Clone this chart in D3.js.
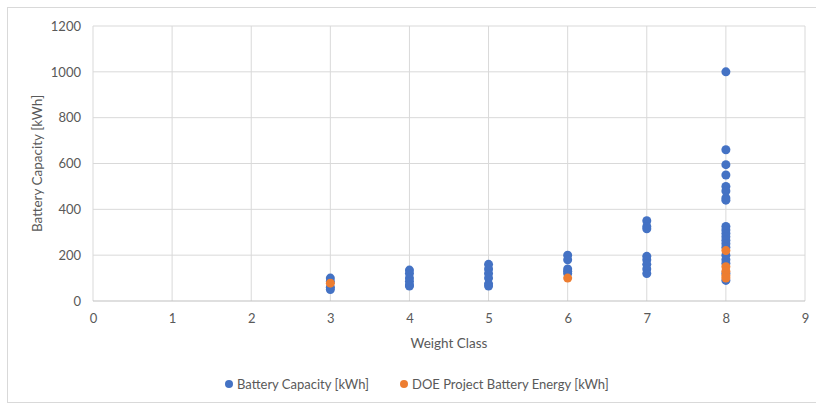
<!DOCTYPE html>
<html><head><meta charset="utf-8">
<script src="https://cdn.jsdelivr.net/npm/d3@7"></script>
<style>body{margin:0;background:#fff;} text{font-family:Lato,"Open Sans",sans-serif;}</style>
</head><body>
<svg id="c" width="816" height="406"></svg>
<script>
const batteryX = [3,3,3,3, 4,4,4,4,4,4, 5,5,5,5,5,5, 6,6,6,6,6, 7,7,7,7,7,7,7,7,
  8,8,8,8,8,8,8,8, 8,8,8,8,8,8,8,8,8,8,8,8];
const batteryY = [100,85,60,50, 135,120,100,85,70,65, 160,140,120,100,75,65, 200,180,140,130,120, 350,325,315,195,180,160,140,120,
  1000,660,595,550,500,480,450,440, 325,310,295,280,265,250,235,200,180,165,120,90];
const doeX = [3, 6, 8,8,8,8,8];
const doeY = [78, 100, 220,150,130,110,100];
const xTicks = [0,1,2,3,4,5,6,7,8,9];
const yTicks = [0,200,400,600,800,1000,1200];
const seriesNames = ["Battery Capacity [kWh]","DOE Project Battery Energy [kWh]"];
const colors = ["#4472C4","#ED7D31"];

const svg = d3.select("#c");
svg.append("rect").attr("x",7.5).attr("y",7.5).attr("width",820).attr("height",395)
  .attr("fill","#fff").attr("stroke","#d9d9d9");
const x = d3.scaleLinear().domain([0,9]).range([93,805]);
const y = d3.scaleLinear().domain([0,1200]).range([301,26]);

svg.append("g").selectAll("line").data(yTicks.filter(d=>d>0)).join("line")
  .attr("x1",x(0)).attr("x2",x(9)).attr("y1",d=>y(d)).attr("y2",d=>y(d))
  .attr("stroke","#d9d9d9").attr("stroke-width",1);
svg.append("g").selectAll("line").data(xTicks).join("line")
  .attr("y1",y(0)).attr("y2",y(1200)).attr("x1",d=>x(d)).attr("x2",d=>x(d))
  .attr("stroke","#d9d9d9").attr("stroke-width",1);
svg.append("line").attr("x1",x(0)).attr("x2",x(9)).attr("y1",y(0)).attr("y2",y(0))
  .attr("stroke","#bfbfbf");

const yAxis = d3.axisLeft(y).tickValues(yTicks).tickFormat(d3.format("d")).tickSize(0).tickPadding(12);
const gy = svg.append("g").attr("transform",`translate(${x(0)},0)`).call(yAxis);
gy.select(".domain").remove();
gy.selectAll("text").attr("fill","#595959").style("font-size","13px");
const xAxis = d3.axisBottom(x).tickValues(xTicks).tickFormat(d3.format("d")).tickSize(0).tickPadding(13);
const gx = svg.append("g").attr("transform",`translate(0,${y(0)})`).call(xAxis);
gx.select(".domain").remove();
gx.selectAll("text").attr("fill","#595959").style("font-size","13px");

svg.append("text").attr("transform",`translate(42,${(y(0)+y(1200))/2}) rotate(-90)`)
  .attr("text-anchor","middle").attr("fill","#595959").style("font-size","13.5px")
  .text("Battery Capacity [kWh]");
svg.append("text").attr("x",(x(0)+x(9))/2).attr("y",348).attr("text-anchor","middle")
  .attr("fill","#595959").style("font-size","13.5px").text("Weight Class");

const pts1 = batteryX.map((d,i)=>({x:d,y:batteryY[i]}));
const pts2 = doeX.map((d,i)=>({x:d,y:doeY[i]}));
svg.append("g").selectAll("circle").data(pts1).join("circle")
  .attr("cx",d=>x(d.x)).attr("cy",d=>y(d.y)).attr("r",4.5).attr("fill",colors[0]);
svg.append("g").selectAll("circle").data(pts2).join("circle")
  .attr("cx",d=>x(d.x)).attr("cy",d=>y(d.y)).attr("r",4.5).attr("fill",colors[1]);

const legX = [229, 404];
const lg = svg.append("g");
seriesNames.forEach((n,i)=>{
  lg.append("circle").attr("cx",legX[i]).attr("cy",384).attr("r",4).attr("fill",colors[i]);
  lg.append("text").attr("x",legX[i]+8).attr("y",388.5).attr("fill","#595959")
    .style("font-size","13px").text(n);
});
</script>
</body></html>
